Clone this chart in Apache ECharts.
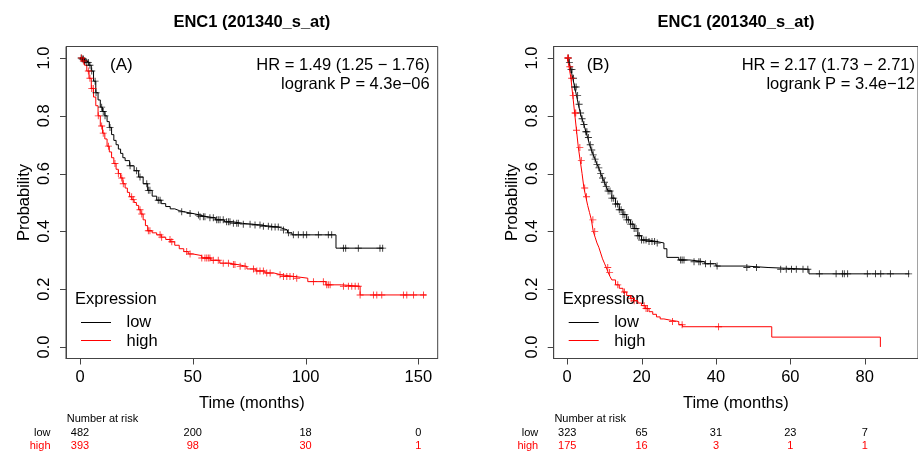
<!DOCTYPE html>
<html>
<head>
<meta charset="utf-8">
<script src="https://cdn.jsdelivr.net/npm/echarts@6/dist/echarts.min.js"></script>
<style>
html,body{margin:0;padding:0;background:#fff;}
#chart{width:918px;height:451px;}
</style>
</head>
<body>
<div id="chart"></div>
<script>
// ---------- DATA ----------
const titleText = 'ENC1 (201340_s_at)';
const panelLabels = ['(A)', '(B)'];
const hrTexts = ['HR = 1.49 (1.25 \u2212 1.76)', 'HR = 2.17 (1.73 \u2212 2.71)'];
const pTexts = ['logrank P = 4.3e\u221206', 'logrank P = 3.4e\u221212'];
const groupNames = ['low', 'high'];

const xTicksA = [0, 50, 100, 150];
const xTicksB = [0, 20, 40, 60, 80];
const yTicks = [0, 0.2, 0.4, 0.6, 0.8, 1.0];

const riskLowA = [482, 200, 18, 0];
const riskHighA = [393, 98, 30, 1];
const riskLowB = [323, 65, 31, 23, 7];
const riskHighB = [175, 16, 3, 1, 1];

// Kaplan-Meier steps [time, survival after drop]
const curveLowA = [[0,1],[1,0.997],[2,0.99],[3,0.985],[4,0.975],[5,0.955],[6,0.92],[7,0.88],[8,0.855],[9,0.83],[10,0.815],[11,0.8],
  [12,0.78],[13,0.76],[14,0.735],[15,0.715],[16,0.7],[17,0.685],[18,0.67],[19,0.655],[20,0.645],[22,0.627],[24,0.61],[26,0.588],
  [28,0.565],[30,0.542],[32,0.522],[34,0.508],[36,0.496],[38,0.486],[40,0.478],[42,0.472],[44,0.468],[46,0.462],[50,0.457],
  [53,0.451],[56,0.447],[60,0.44],[64,0.433],[68,0.428],[72,0.425],[76,0.422],[80,0.418],[84,0.415],[88,0.41],[90,0.405],
  [92,0.395],[94,0.388],[113.5,0.342],[134.5,0.342]];
const curveHighA = [[0,1],[1,0.99],[2,0.975],[3,0.955],[4,0.93],[5,0.895],[6,0.865],[7,0.835],[8,0.8],[9,0.765],[10,0.74],[11,0.72],
  [12,0.695],[13,0.675],[14,0.655],[15,0.635],[16,0.615],[17,0.6],[18,0.585],[19,0.565],[20,0.55],[21,0.535],[22,0.52],[23,0.51],
  [24,0.5],[25,0.49],[26,0.475],[27,0.46],[28,0.44],[29,0.42],[30,0.402],[32,0.395],[34,0.388],[36,0.38],[38,0.372],[40,0.364],
  [42,0.352],[44,0.34],[46,0.33],[48,0.322],[50,0.316],[54,0.308],[58,0.3],[62,0.29],[66,0.285],[70,0.279],[74,0.27],[78,0.263],
  [82,0.256],[86,0.25],[89,0.244],[95,0.238],[101,0.226],[109,0.215],[116,0.21],[124.2,0.18],[153.5,0.18]];
const curveLowB = [[0,1],[0.5,0.985],[1,0.96],[1.5,0.93],[2,0.9],[2.5,0.87],[3,0.84],[3.5,0.81],[4,0.79],[4.5,0.77],[5,0.745],
  [5.5,0.725],[6,0.7],[6.5,0.682],[7,0.665],[7.5,0.65],[8,0.632],[8.5,0.62],[9,0.6],[9.5,0.585],[10,0.57],[10.5,0.555],[11,0.54],
  [12,0.515],[13,0.495],[14,0.475],[15,0.458],[16,0.44],[17,0.425],[18,0.41],[19,0.385],[20,0.37],[22,0.365],[24,0.36],[26,0.34],
  [26.8,0.31],[30,0.301],[33,0.295],[37,0.288],[40,0.28],[48,0.275],[54,0.269],[65,0.253],[92,0.253]];
const curveHighB = [[0,1],[0.5,0.97],[1,0.93],[1.5,0.87],[2,0.81],[2.5,0.75],[3,0.69],[3.5,0.645],[4,0.6],[4.5,0.55],[5,0.52],
  [5.5,0.49],[6,0.465],[6.5,0.44],[7,0.4],[7.5,0.38],[8,0.36],[8.5,0.345],[9,0.325],[9.5,0.305],[10,0.29],[10.5,0.275],[11,0.258],
  [11.5,0.244],[12,0.232],[13,0.215],[14,0.203],[15,0.19],[16,0.178],[17,0.168],[18,0.16],[19,0.152],[20,0.143],[21,0.133],
  [22,0.122],[23,0.113],[24,0.104],[25,0.097],[26,0.092],[28,0.088],[30,0.077],[31,0.07],[55,0.034],[84.2,0]];

// censoring times
const censorLowA = [0.5,1,1.5,2.2,3,3.7,4.4,5.2,6.7,7.1,9.6,10.3,11.1,13.3,22.2,25.1,26.6,29.6,30.3,31,34.7,35.5,45.1,48.8,52.5,53.2,
  54.7,55.4,57.6,59.1,60.6,61.3,62.1,63.5,65,65.8,66.5,68,69.5,70.2,72.4,75.4,77.6,79.8,81.3,83.5,85,86.5,87.9,90.2,92.4,94.6,96.8,
  99,100.5,105.7,110.1,111.6,116.8,117.8,123.4,133,134.2];
const censorHighA = [0.7,1.5,3.7,4.4,5.2,5.9,8.1,9.6,10.3,12.6,15.5,17,18.5,19.2,22.9,23.6,26.6,27.4,30.3,31,35.5,36.2,39.9,40.7,
  47.3,48.8,54,55.4,56.2,56.9,57.6,59.1,61.3,63.5,65.8,68,68.7,71,73.2,76.9,78.4,79.8,81.3,82.8,84.3,88.7,90.2,91.7,93.1,94.6,96.1,
  103.5,107.9,109.4,110.1,110.9,116.8,119,120.5,122,123.4,124.2,130.1,131.6,133.8,143.4,144.9,147.9,152.3];
const censorLowB = [0.3,0.6,1,1.3,1.7,2,2.4,2.8,3.2,3.6,4,4.5,5,5.3,5.7,6.2,6.6,7,7.5,8,8.5,9,9.5,10,10.5,11,11.5,12,12.5,13,13.5,
  14,14.5,15,15.5,16,16.5,17,17.5,18,18.5,19,19.4,20,20.6,21.2,22,22.8,23.5,24.2,30.5,30.9,31.4,34.1,35.4,35.8,37.2,38.5,40.3,48.3,
  50.9,57.4,58.9,60.3,61.6,63.4,64.7,67.8,72.3,74,74.5,75.4,80.7,82.9,84.3,86.9,91.8];
const censorHighB = [0.1,0.3,0.7,1.2,1.6,2.1,2.3,2.5,3.4,3.8,4.7,5.2,6.9,7.4,10.9,11.4,13.6,15.4,17.2,18,20.7,21.2,21.6,28.3,30.9,40.7];

// ---------- HELPERS ----------
function survAt(curve, t) {
  let s = curve[0][1];
  for (const p of curve) { if (p[0] <= t) s = p[1]; else break; }
  return s;
}
function censorPts(curve, times) { return times.map(t => [t, survAt(curve, t)]); }

const FONT = '"Liberation Sans", Arial, Helvetica, sans-serif';
const BLACK = '#000000', RED = '#ff0000';
const AXISC = '#444444';
const TICKLEN = 6;
const plusPath = 'path://M-5,-0.65H5V0.65H-5Z M-0.65,-5H0.65V5H-0.65Z';

const grids = [
  {left: 66, top: 46.5, width: 371.7, height: 312},
  {left: 553.7, top: 46.5, width: 367.3, height: 312}
];
const xRanges = [[-6.21, 158.6], [-3.63, 94.32]];
const yRange = [-0.04, 1.04];
const xTickSets = [xTicksA, xTicksB];

function xAxisFor(i) {
  return {
    gridIndex: i, type: 'value', min: xRanges[i][0], max: xRanges[i][1], position: 'bottom',
    axisLine: {show: true, onZero: false, lineStyle: {color: AXISC, width: 1}}, splitLine: {show: false},
    axisTick: {show: false},
    axisLabel: {show: true, fontFamily: FONT, fontSize: 16.5, color: '#000', margin: 10, customValues: xTickSets[i]},
    name: 'Time (months)', nameLocation: 'middle', nameGap: 36,
    nameTextStyle: {fontFamily: FONT, fontSize: 16.5, color: '#000'}
  };
}
function yAxisFor(i) {
  return {
    gridIndex: i, type: 'value', min: yRange[0], max: yRange[1], position: 'left',
    axisLine: {show: true, onZero: false, lineStyle: {color: AXISC, width: 1}}, splitLine: {show: false},
    axisTick: {show: false},
    axisLabel: {show: true, fontFamily: FONT, fontSize: 16.5, color: '#000', rotate: 90, margin: 13,
      customValues: yTicks, formatter: v => v.toFixed(1)},
    name: 'Probability', nameLocation: 'middle', nameGap: 33,
    nameTextStyle: {fontFamily: FONT, fontSize: 16.5, color: '#000'}
  };
}
function lineSeries(i, name, curve, color) {
  return {type: 'line', name, xAxisIndex: i, yAxisIndex: i, data: curve, step: 'end', showSymbol: false,
    symbol: 'none', lineStyle: {color, width: 1}, silent: true, z: 2};
}
function censorSeries(i, name, curve, times, color) {
  return {type: 'scatter', name, xAxisIndex: i, yAxisIndex: i, data: censorPts(curve, times),
    symbol: plusPath, symbolSize: 7, itemStyle: {color}, silent: true, z: 3};
}
// outward tick marks, positioned through the axes' own scales
function xTickSeries(i) {
  return {type: 'custom', xAxisIndex: i, yAxisIndex: i, clip: false, silent: true, z: 1,
    data: xTickSets[i].map(v => [v, yRange[0]]),
    renderItem: (params, api) => {
      const p = api.coord([api.value(0), api.value(1)]);
      const x = Math.round(p[0]) + 0.5;
      return {type: 'line', shape: {x1: x, y1: p[1], x2: x, y2: p[1] + TICKLEN}, style: {stroke: AXISC, lineWidth: 1}};
    }};
}
function yTickSeries(i) {
  return {type: 'custom', xAxisIndex: i, yAxisIndex: i, clip: false, silent: true, z: 1,
    data: yTicks.map(v => [xRanges[i][0], v]),
    renderItem: (params, api) => {
      const p = api.coord([api.value(0), api.value(1)]);
      const y = Math.round(p[1]) + 0.5;
      return {type: 'line', shape: {x1: p[0] - TICKLEN, y1: y, x2: p[0], y2: y}, style: {stroke: AXISC, lineWidth: 1}};
    }};
}

const chart = echarts.init(document.getElementById('chart'), null, {renderer: 'canvas'});
chart.setOption({
  animation: false,
  backgroundColor: '#ffffff',
  grid: grids.map(g => Object.assign({show: true, borderColor: AXISC, borderWidth: 1, backgroundColor: 'transparent'}, g)),
  xAxis: [xAxisFor(0), xAxisFor(1)],
  yAxis: [yAxisFor(0), yAxisFor(1)],
  series: [
    xTickSeries(0), yTickSeries(0), xTickSeries(1), yTickSeries(1),
    lineSeries(0, groupNames[0], curveLowA, BLACK),
    lineSeries(0, groupNames[1], curveHighA, RED),
    censorSeries(0, groupNames[0], curveLowA, censorLowA, BLACK),
    censorSeries(0, groupNames[1], curveHighA, censorHighA, RED),
    lineSeries(1, groupNames[0], curveLowB, BLACK),
    lineSeries(1, groupNames[1], curveHighB, RED),
    censorSeries(1, groupNames[0], curveLowB, censorLowB, BLACK),
    censorSeries(1, groupNames[1], curveHighB, censorHighB, RED)
  ]
});

// ---------- ANNOTATIONS ----------
const risks = [[riskLowA, riskHighA], [riskLowB, riskHighB]];
const g = [];
function txt(x, y, text, opts) {
  g.push({type: 'text', x, y, silent: true, style: Object.assign({text, fontFamily: FONT, fontSize: 16.5, fill: '#000',
    align: 'left', verticalAlign: 'middle'}, opts || {})});
}
[0, 1].forEach(i => {
  const gr = grids[i];
  const right = i === 0 ? gr.left + gr.width - 8 : 915;
  const cx = i === 0 ? gr.left + gr.width / 2 : 736;
  txt(cx, 22, titleText, {align: 'center', fontWeight: 'bold'});
  txt(gr.left + (i === 0 ? 44 : 33), 65.5, panelLabels[i], {fontSize: 17});
  txt(right, 65.5, hrTexts[i], {align: 'right'});
  txt(right, 84, pTexts[i], {align: 'right'});
  // legend
  const lx = gr.left + 9;
  txt(lx, 299.5, 'Expression');
  g.push({type: 'line', silent: true, shape: {x1: lx + 6, y1: 322.5, x2: lx + 36, y2: 322.5}, style: {stroke: BLACK, lineWidth: 1}});
  g.push({type: 'line', silent: true, shape: {x1: lx + 6, y1: 340.5, x2: lx + 36, y2: 340.5}, style: {stroke: RED, lineWidth: 1}});
  txt(lx + 51.5, 322.7, groupNames[0]);
  txt(lx + 51.5, 341, groupNames[1]);
  // risk table
  const labelRight = gr.left - 15.5;
  txt(gr.left + 0.7, 419.3, 'Number at risk', {fontSize: 11});
  txt(labelRight, 433.3, groupNames[0], {fontSize: 11, align: 'right'});
  txt(labelRight, 445.7, groupNames[1], {fontSize: 11, align: 'right', fill: RED});
  xTickSets[i].forEach((t, k) => {
    const px = chart.convertToPixel({xAxisIndex: i}, t);
    txt(px, 433.3, String(risks[i][0][k]), {fontSize: 11, align: 'center'});
    txt(px, 445.7, String(risks[i][1][k]), {fontSize: 11, align: 'center', fill: RED});
  });
});
chart.setOption({graphic: g});
</script>
</body>
</html>
